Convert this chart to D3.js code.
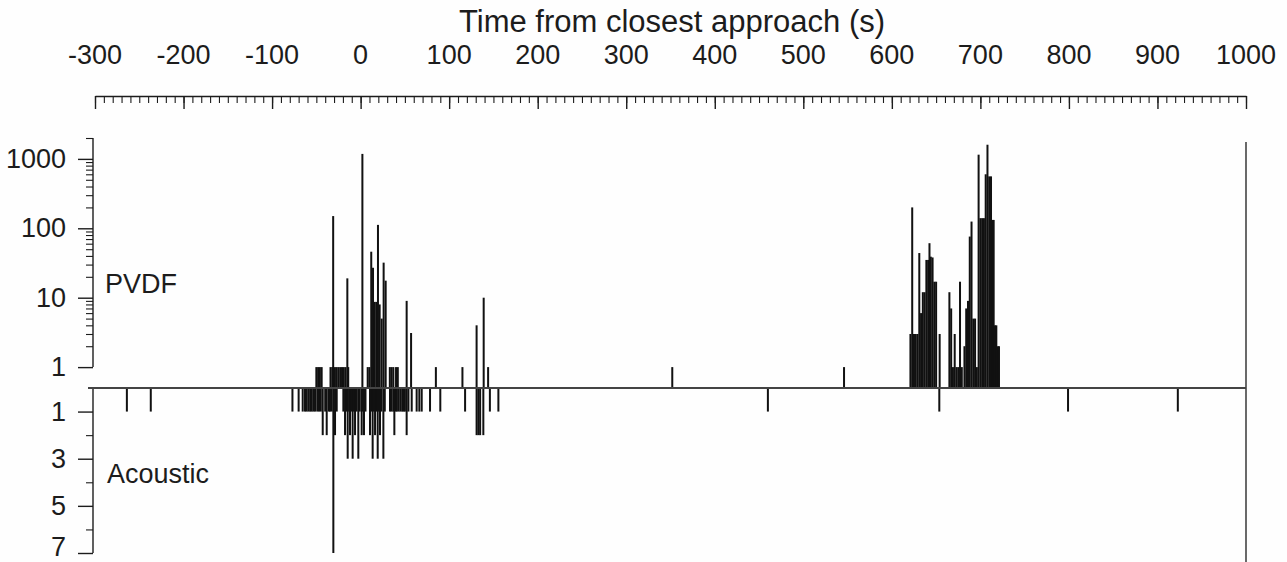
<!DOCTYPE html>
<html><head><meta charset="utf-8">
<script src="https://cdn.jsdelivr.net/npm/d3@7"></script>
<style>
body{margin:0;background:#fff;}
svg{display:block;}
text{font-family:"Liberation Sans",Arial,Helvetica,sans-serif;fill:#1c1c1c;}
</style>
</head><body>
<svg id="c" width="1287" height="562"></svg>
<script>
// ---- data ----
const timeTicks = [-300,-200,-100,0,100,200,300,400,500,600,700,800,900,1000];
const pvdfTicks = [1,10,100,1000];
const acousticTicks = [1,3,5,7];
const acousticMinor = [2,4,6];

const pvdfTime = [-50,-48,-46,-44,
  -34,-32,-31,-29,-27,-25,-23,-21,-19,-17,-15,-14,
  2,
  8,10,12,14,16,18,19.6,21.5,23.8,26,28.3,
  33,35,37,40,42,
  52,57,85,115,131,139,144,
  352,546,
  621,623,625,627,629,631,633,635,637,639,641,642.5,644,646,648,650,654,
  665,667,669,671,673,675,677,679,682,684,686,688,690,692,694,696,698,700,702,704,706,708,710,712,713.5,715,716.5,718,719.5,721];
const pvdfCount = [1,1,1,1,
  1,1,150,1,1,1,1,1,1,1,19,1,
  1180,
  1,1,46,27,8.7,8.7,112,8,5,32,17.6,
  1,1,1,1,1,
  9,3.1,1,1,4,10,1,
  1,1,
  3,200,3,3,3,44,6,12,12,35,35,61,39,38,17,17,3,
  12,7,1,3,1,1,17,1,2,7,9,76,125,5,5,1,1150,140,140,140,600,1600,560,560,132,132,4,4,2,2];

const acousticTime = [-264,-237,
  -77,-70,-65.4,-62.8,-61,-59,-57,-55.3,-53.4,-51.5,
  -49,-47,-45,-42.8,-40,-38.3,-36,-34.6,-32.7,-30.8,-28.9,-27,
  -19.5,-17.6,-16,-14.6,-13,-12,-10.5,-9,-7.5,-6.3,-4.5,-2.6,-1,1.2,2.5,3.8,5.5,
  10.6,12,13.6,15,16.3,18,19.3,20.5,21.9,23.5,25.7,27.3,
  33.2,35,37,38.1,39.5,41,43,45,47,48.5,50,
  52,54,57.7,63.3,66.3,69,78.4,90,
  118,131,133,135,138.6,146,155.6,
  460,653.6,799,923];
const acousticCount = [1,1,
  1,1,1,1,1,1,1,1,1,1,
  1,1,1,2,1,2,1,1,1,7,2,1,
  1,2,1,3,1,2,1,3,1,2,1,3,1,2,1,2,1,
  2,1,3,1,2,1,3,1,2,1,3,1,
  1,1,1,2,1,1,1,1,1,1,1,
  2,1,1,1,1,1,1,1,
  1,2,2,2,2,1,1,
  1,1,1,1];

// ---- chart ----
const svg = d3.select('#c');
const ink = '#1c1c1c';
const x = d3.scaleLinear().domain([-300,1000]).range([95,1246]);
const yP = d3.scaleLog().domain([0.5,2000]).range([388,138]);
const yA = d3.scaleLinear().domain([0,7]).range([388,553]);
const base = 388;

svg.append('rect').attr('width',1287).attr('height',562).attr('fill','#fefefe');

// title
svg.append('text').attr('x',672).attr('y',32).attr('text-anchor','middle')
  .style('font-size','31px').text('Time from closest approach (s)');

// top ruler axis
const rulerY = 96;
const minorT = d3.range(-300,1001,10);
svg.append('g').attr('transform',`translate(0,${rulerY})`)
  .call(d3.axisBottom(x).tickValues(minorT).tickSize(7).tickSizeOuter(0).tickFormat(''))
  .call(g=>g.selectAll('line,path').attr('stroke',ink).attr('stroke-width',1.1));
svg.append('g').attr('transform',`translate(0,${rulerY})`)
  .call(d3.axisBottom(x).tickValues(timeTicks).tickSize(13).tickSizeOuter(0).tickFormat(''))
  .call(g=>g.select('.domain').attr('stroke',ink).attr('stroke-width',1.4))
  .call(g=>g.selectAll('line').attr('stroke',ink).attr('stroke-width',1.4));
svg.append('g').selectAll('text').data(timeTicks).join('text')
  .attr('x',d=>x(d)).attr('y',64).attr('text-anchor','middle')
  .style('font-size','27px').text(d=>d);

// left PVDF axis
const axX = 93;
const pvdfMinor = [];
[1,10,100].forEach(k=>{for(let m=2;m<=9;m++) pvdfMinor.push(m*k);});
pvdfMinor.push(2000);
const gP = svg.append('g').attr('transform',`translate(${axX},0)`);
gP.call(d3.axisLeft(yP).tickValues(pvdfMinor).tickSize(7).tickFormat(''))
  .call(g=>g.select('.domain').remove())
  .call(g=>g.selectAll('line').attr('stroke',ink).attr('stroke-width',1.1));
const gP2 = svg.append('g').attr('transform',`translate(${axX},0)`);
gP2.call(d3.axisLeft(yP).tickValues(pvdfTicks).tickSize(15).tickPadding(12).tickFormat(d3.format('d')))
  .call(g=>g.select('.domain').remove())
  .call(g=>g.selectAll('line').attr('stroke',ink).attr('stroke-width',1.4))
  .call(g=>g.selectAll('text').style('font-size','27px').attr('fill',ink).attr('font-family',null));
svg.append('line').attr('x1',axX).attr('x2',axX).attr('y1',yP(2000)).attr('y2',yP(1))
  .attr('stroke',ink).attr('stroke-width',1.4);

// left acoustic axis
const gA = svg.append('g').attr('transform',`translate(${axX},0)`);
gA.call(d3.axisLeft(yA).tickValues(acousticMinor).tickSize(7).tickFormat(''))
  .call(g=>g.select('.domain').remove())
  .call(g=>g.selectAll('line').attr('stroke',ink).attr('stroke-width',1.1));
const gA2 = svg.append('g').attr('transform',`translate(${axX},0)`);
gA2.call(d3.axisLeft(yA).tickValues(acousticTicks).tickSize(15).tickPadding(12).tickFormat(d3.format('d')))
  .call(g=>g.select('.domain').remove())
  .call(g=>g.selectAll('line').attr('stroke',ink).attr('stroke-width',1.4))
  .call(g=>g.selectAll('text').style('font-size','27px').attr('fill',ink).attr('font-family',null)
    .attr('dy',d=>d===7?'0.08em':'0.32em'));
svg.append('line').attr('x1',axX).attr('x2',axX).attr('y1',yA(0)).attr('y2',yA(7))
  .attr('stroke',ink).attr('stroke-width',1.4);

// right frame line
svg.append('line').attr('x1',x(1000)).attr('x2',x(1000)).attr('y1',142).attr('y2',562)
  .attr('stroke','#444').attr('stroke-width',1.6);

// bars
const pv = pvdfTime.map((t,i)=>({t,v:pvdfCount[i]}));
const ac = acousticTime.map((t,i)=>({t,v:acousticCount[i]}));
const barW = 2;
svg.append('g').selectAll('rect').data(pv).join('rect')
  .attr('x',d=>x(d.t)-barW/2).attr('width',barW)
  .attr('y',d=>yP(d.v)).attr('height',d=>base-yP(d.v))
  .attr('fill','#111');
svg.append('g').selectAll('rect').data(ac).join('rect')
  .attr('x',d=>x(d.t)-barW/2).attr('width',barW)
  .attr('y',base).attr('height',d=>yA(d.v)-base)
  .attr('fill','#111');

// baseline
svg.append('line').attr('x1',88).attr('x2',x(1000)).attr('y1',base).attr('y2',base)
  .attr('stroke','#444').attr('stroke-width',2);

// panel labels
svg.append('text').attr('x',105).attr('y',293).style('font-size','27px').text('PVDF');
svg.append('text').attr('x',107).attr('y',483).style('font-size','27px').text('Acoustic');
</script>
</body></html>
